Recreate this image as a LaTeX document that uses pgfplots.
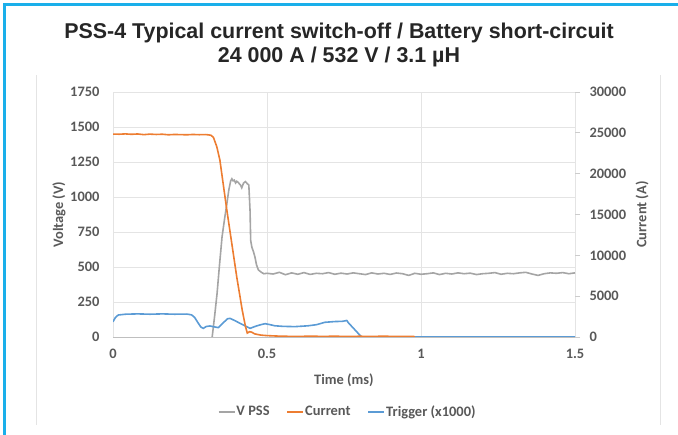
\documentclass[border=0pt]{standalone}
\usepackage{fontspec}
\setmainfont{Carlito}
\newfontfamily\titlefont{Liberation Sans}
\usepackage{pgfplots}
\pgfplotsset{compat=1.18}
\definecolor{cgray}{HTML}{A5A5A5}
\definecolor{corange}{HTML}{ED7D31}
\definecolor{cblue}{HTML}{5B9BD5}
\definecolor{ctext}{HTML}{595959}
\definecolor{cframe}{HTML}{1AAFEA}
\definecolor{cgrid}{HTML}{E4E4E4}
\begin{document}
\begin{tikzpicture}
\path[use as bounding box] (0,0) rectangle (678bp,435bp);
\draw[cframe, line width=3bp] (4.5bp,0) -- (4.5bp,430.5bp) -- (678bp,430.5bp);
\draw[cgrid, line width=1bp] (36bp,10bp) -- (36bp,360bp);
\draw[cgrid, line width=1bp] (660bp,10bp) -- (660bp,360bp);
\node[font=\titlefont\bfseries\fontsize{21.5}{24}\selectfont, text=black!85, align=center] at (339bp,390bp)
  {PSS-4 Typical current switch-off / Battery short-circuit\\24 000 A / 532 V / 3.1 µH};
\begin{axis}[
  at={(113bp,98bp)}, anchor=south west,
  scale only axis, width=462bp, height=245bp,
  xmin=0, xmax=1.5, ymin=0, ymax=1750,
  xtick={0,0.5,1,1.5}, ytick={0,250,...,1750},
  xticklabels={0,0.5,1,1.5},
  grid=major, major grid style={cgrid, line width=0.8bp},
  axis x line*=bottom, axis y line*=left,
  x axis line style={draw=black!25, line width=0.8bp},
  y axis line style={draw=none},
  tick style={draw=none},
  /pgf/number format/assume math mode=true,
  /pgf/number format/set thousands separator={},
  ticklabel style={font=\bfseries\fontsize{14.5}{16}\selectfont, text=ctext},
  yticklabel shift=10bp, xticklabel shift=9bp,
  xlabel={Time (ms)}, ylabel={Voltage (V)},
  every axis x label/.style={at={(axis description cs:0.5,0)}, yshift=-43bp, anchor=center, font=\bfseries\fontsize{14.5}{16}\selectfont, text=ctext},
  every axis y label/.style={at={(axis description cs:0,0.5)}, xshift=-54bp, rotate=90, anchor=center, font=\bfseries\fontsize{14.5}{16}\selectfont, text=ctext},
  legend columns=3,
  legend style={at={(axis description cs:0.507,-0.306)}, anchor=center, draw=none, fill=none,
    font=\bfseries\fontsize{14.5}{16}\selectfont, text=ctext,
    nodes={inner xsep=1bp, inner ysep=2bp},
    /tikz/every even column/.append style={column sep=16bp},
    inner sep=0pt},
  legend image code/.code={\draw[#1] (0bp,0bp) -- (16bp,0bp);},
  clip=true,
]
\addplot[cgray, line width=1.6bp] coordinates {
(0.316,-30) (0.322,0) (0.330,150) (0.338,314) (0.346,520) (0.354,714) (0.362,840) (0.370,957)
(0.376,1050) (0.382,1115) (0.386,1130) (0.390,1115) (0.394,1120) (0.398,1100) (0.402,1112)
(0.406,1105) (0.410,1095) (0.414,1085) (0.418,1066) (0.424,1100) (0.430,1110) (0.436,1095)
(0.441,1085) (0.445,900) (0.447,690) (0.451,640) (0.456,610) (0.461,570) (0.466,515) (0.472,479)
(0.483,460) (0.49,452) (0.50,455) (0.52,450) (0.54,462) (0.56,445) (0.58,458) (0.60,448) (0.62,460)
(0.64,447) (0.66,455) (0.68,452) (0.70,460) (0.72,448) (0.74,456) (0.76,450) (0.78,458)
(0.80,452) (0.82,446) (0.84,458) (0.86,450) (0.88,455) (0.90,447) (0.92,457) (0.94,452)
(0.96,440) (0.98,455) (1.00,448) (1.02,452) (1.04,458) (1.06,446) (1.08,455) (1.10,450)
(1.12,458) (1.14,452) (1.16,456) (1.18,446) (1.20,452) (1.22,455) (1.24,460) (1.26,448)
(1.28,455) (1.30,452) (1.32,458) (1.34,462) (1.36,450) (1.38,440) (1.40,452) (1.42,458)
(1.44,455) (1.46,460) (1.48,452) (1.50,458)
};
\addlegendentry{V PSS}
\addlegendimage{corange, line width=1.6bp}
\addlegendentry{Current}
\addlegendimage{cblue, line width=1.6bp}
\addlegendentry{Trigger (x1000)}
\end{axis}
\begin{axis}[
  at={(113bp,98bp)}, anchor=south west,
  scale only axis, width=462bp, height=245bp,
  xmin=0, xmax=1.5, ymin=0, ymax=30000,
  ytick={0,5000,...,30000},
  scaled y ticks=false,
  axis x line=none, axis y line*=right,
  y axis line style={draw=none},
  tick align=outside, major tick length=5bp,
  tick style={draw=black!20, line width=0.8bp},
  /pgf/number format/assume math mode=true,
  /pgf/number format/set thousands separator={},
  ticklabel style={font=\bfseries\fontsize{14.5}{16}\selectfont, text=ctext},
  yticklabel shift=6bp,
  ylabel={Current (A)},
  every axis y label/.style={at={(axis description cs:1,0.5)}, xshift=67bp, rotate=90, anchor=center, font=\bfseries\fontsize{14.5}{16}\selectfont, text=ctext},
  clip=true,
]
\addplot[cblue, line width=1.6bp] coordinates {
(0,1870) (0.008,2400) (0.017,2690) (0.04,2790) (0.08,2830) (0.12,2790) (0.16,2830) (0.20,2790)
(0.24,2810) (0.255,2710) (0.265,2400) (0.277,1680) (0.285,1230) (0.293,1060) (0.303,1290)
(0.315,1350) (0.33,1230) (0.342,1150) (0.358,1750) (0.372,2230) (0.38,2280) (0.395,2020)
(0.412,1680) (0.43,1340) (0.445,1060) (0.465,1340) (0.48,1510) (0.494,1630) (0.51,1510)
(0.526,1370) (0.553,1300) (0.591,1270) (0.633,1370) (0.661,1510) (0.688,1800) (0.72,1890)
(0.745,1920) (0.759,2020) (0.765,1710) (0.807,0) (1.5,0)
};
\addplot[corange, line width=1.6bp] coordinates {
(0,24850) (0.02,24830) (0.04,24870) (0.06,24820) (0.08,24860) (0.10,24780) (0.12,24840)
(0.14,24800) (0.16,24830) (0.18,24760) (0.20,24800) (0.22,24780) (0.24,24760) (0.26,24800)
(0.28,24770) (0.30,24790) (0.31,24750) (0.318,24700) (0.326,24450) (0.337,23300) (0.347,21670)
(0.369,15700) (0.402,7300) (0.42,3200) (0.43,1300) (0.436,480) (0.443,650) (0.45,600)
(0.46,380) (0.48,230) (0.50,170) (0.53,120) (0.56,90) (0.60,60) (0.64,110) (0.68,70) (0.72,100)
(0.76,60) (0.80,90) (0.84,70) (0.88,100) (0.92,60) (0.96,80) (0.98,50)
};
\end{axis}
\end{tikzpicture}
\end{document}
